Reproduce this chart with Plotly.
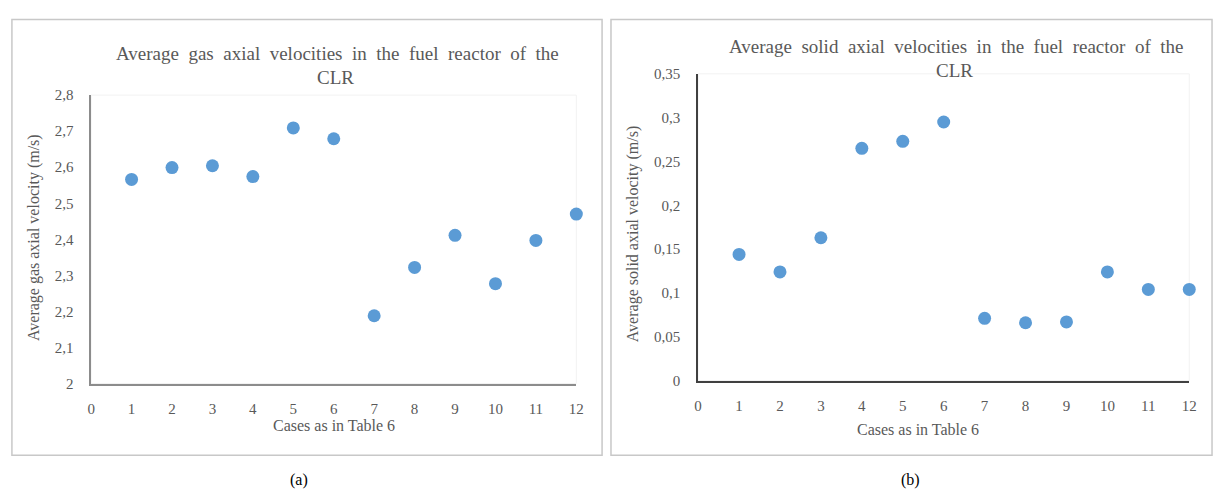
import plotly.graph_objects as go

W, H = 1223, 497

cases = [1, 2, 3, 4, 5, 6, 7, 8, 9, 10, 11, 12]
gas_velocity = [2.566, 2.599, 2.604, 2.574, 2.709, 2.679, 2.188, 2.322, 2.411, 2.277, 2.397, 2.470]
solid_velocity = [0.144, 0.124, 0.163, 0.265, 0.273, 0.295, 0.071, 0.066, 0.067, 0.124, 0.104, 0.104]
x_ticks = list(range(0, 13))
gas_ticks = [2.0, 2.1, 2.2, 2.3, 2.4, 2.5, 2.6, 2.7, 2.8]
solid_ticks = [0, 0.05, 0.1, 0.15, 0.2, 0.25, 0.3, 0.35]

FONT = "Liberation Serif"
GREY = "#595959"
BLUE = "#5B9BD5"


def px(x):
    return x / W


def py(y):
    return 1 - y / H


fig = go.Figure()
fig.add_trace(go.Scatter(x=cases, y=gas_velocity, mode="markers", xaxis="x", yaxis="y",
                         marker=dict(color=BLUE, size=13), cliponaxis=False, showlegend=False))
fig.add_trace(go.Scatter(x=cases, y=solid_velocity, mode="markers", xaxis="x2", yaxis="y2",
                         marker=dict(color=BLUE, size=13), cliponaxis=False, showlegend=False))


def axis_common(linecolor, width):
    return dict(showline=True, linecolor=linecolor, linewidth=width, showgrid=False, zeroline=False,
                ticks="", tickfont=dict(family=FONT, size=15, color=GREY), fixedrange=True)


fig.update_layout(
    width=W, height=H,
    margin=dict(l=0, r=0, t=0, b=0),
    paper_bgcolor="white", plot_bgcolor="white",
    separators=", ",
    font=dict(family=FONT, color=GREY),
    xaxis=dict(domain=[px(88), px(578)], range=[0, 12], tickvals=x_ticks, anchor="y",
               ticklabelstandoff=11, **axis_common("#8C8C8C", 1.5)),
    yaxis=dict(domain=[py(388), py(90)], range=[2, 2.8], tickvals=gas_ticks, anchor="x",
               ticklabelstandoff=13, **axis_common("#8C8C8C", 1.5)),
    xaxis2=dict(domain=[px(701), px(1197)], range=[0, 12], tickvals=x_ticks, anchor="y2",
                ticklabelstandoff=11, **axis_common("#404040", 1.5)),
    yaxis2=dict(domain=[py(385), py(68)], range=[0, 0.35], tickvals=solid_ticks, anchor="x2",
                ticklabelstandoff=13, **axis_common("#404040", 1.5)),
)

shapes = [
    dict(type="rect", xref="paper", yref="paper", x0=px(8), x1=px(604), y0=py(462), y1=py(12),
         line=dict(color="#C8C8C8", width=1.5)),
    dict(type="rect", xref="paper", yref="paper", x0=px(613), x1=px(1220), y0=py(462), y1=py(12),
         line=dict(color="#C8C8C8", width=1.5)),
    dict(type="rect", xref="paper", yref="paper", x0=px(88), x1=px(578), y0=py(388), y1=py(90),
         line=dict(color="#F2F2F2", width=1), layer="below"),
    dict(type="rect", xref="paper", yref="paper", x0=px(701), x1=px(1197), y0=py(385), y1=py(68),
         line=dict(color="#F2F2F2", width=1), layer="below"),
]
fig.update_layout(shapes=shapes)

ann = []


def text(x, y, s, size, angle=0, color=GREY):
    ann.append(dict(x=px(x), y=py(y), xref="paper", yref="paper", text=s, showarrow=False,
                    textangle=angle, xanchor="center", yanchor="middle",
                    font=dict(family=FONT, size=size, color=color)))


text(337, 47, "Average  gas  axial  velocities  in  the  fuel  reactor  of  the", 19)
text(335, 72, "CLR", 19)
text(333, 431, "Cases as in Table 6", 16)
text(31, 237, "Average gas axial velocity (m/s)", 16, angle=-90)

text(961, 40, "Average  solid  axial  velocities  in  the  fuel  reactor  of  the", 19)
text(960, 65, "CLR", 19)
text(923, 436, "Cases as in Table 6", 16)
text(636, 233, "Average solid axial velocity (m/s)", 16, angle=-90)

text(298, 488, "(a)", 16, color="#000000")
text(915, 488, "(b)", 16, color="#000000")

fig.update_layout(annotations=ann)
fig.write_html("out.html")
